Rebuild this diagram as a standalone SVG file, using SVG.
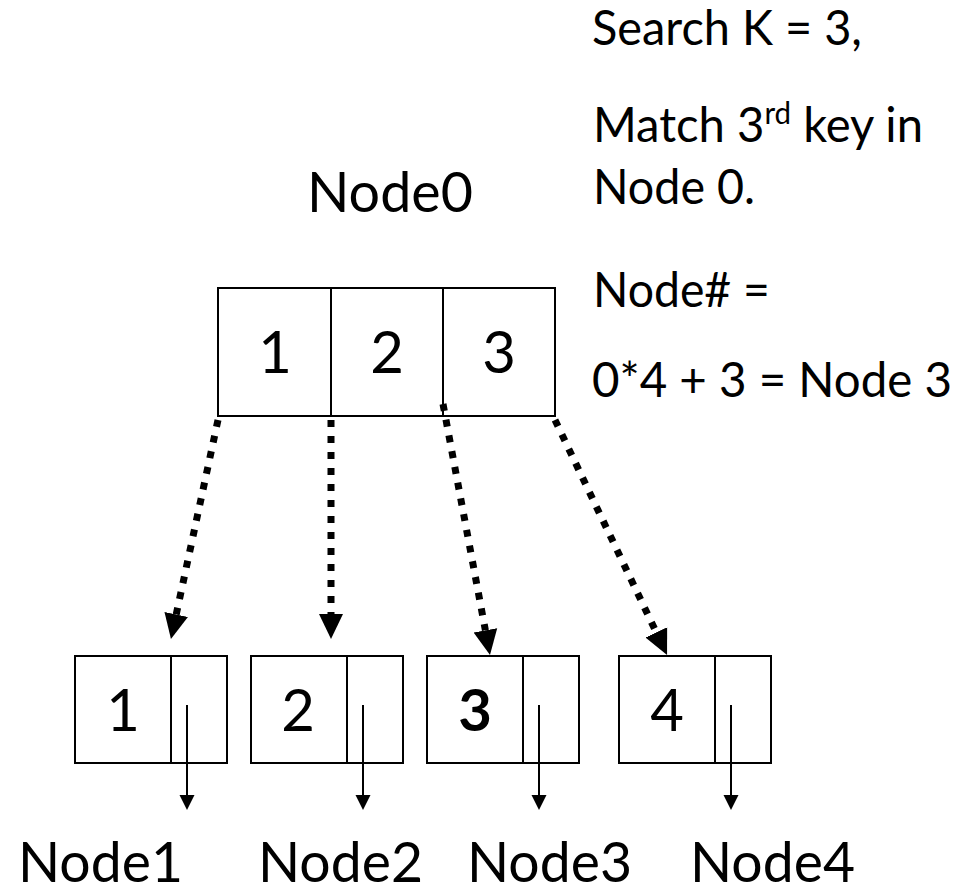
<svg xmlns="http://www.w3.org/2000/svg" width="968" height="888" viewBox="0 0 968 888">
  <style>
    .box { fill: #ffffff; stroke: #000000; stroke-width: 2; }
    .div { stroke: #000000; stroke-width: 2; }
    .t { font-family: Lato, "Liberation Sans", Arial, sans-serif; fill: #000000; }
    .big { font-size: 56px; }
    .note { font-size: 48px; }
    .key { font-size: 58px; text-anchor: middle; }
    .ptr { stroke: #000000; stroke-width: 7; stroke-dasharray: 7 9; fill: none; }
    .link { stroke: #000000; stroke-width: 2; fill: none; }
  </style>
  <defs>
    <marker id="bigHead" markerUnits="userSpaceOnUse" markerWidth="26" markerHeight="26" refX="0" refY="12" orient="auto" viewBox="0 0 26 24">
      <path d="M0,0 L25,12 L0,24 Z" fill="#000000"/>
    </marker>
    <marker id="smallHead" markerUnits="userSpaceOnUse" markerWidth="16" markerHeight="16" refX="0" refY="7.5" orient="auto" viewBox="0 0 16 15">
      <path d="M0,0 L15,7.5 L0,15 Z" fill="#000000"/>
    </marker>
  </defs>

  <!-- explanation text -->
  <g id="notes" class="t note">
    <text x="592" y="45" textLength="270" lengthAdjust="spacingAndGlyphs">Search K = 3,</text>
    <text x="593" y="142" textLength="330" lengthAdjust="spacingAndGlyphs">Match 3<tspan font-size="30" dy="-18">rd</tspan><tspan dy="18"> key in</tspan></text>
    <text x="593" y="204" textLength="162" lengthAdjust="spacingAndGlyphs">Node 0.</text>
    <text x="593" y="307" textLength="177" lengthAdjust="spacingAndGlyphs">Node# =</text>
    <text x="592" y="397" textLength="360" lengthAdjust="spacingAndGlyphs">0*4 + 3 = Node 3</text>
  </g>

  <!-- root node -->
  <g id="node0">
    <text class="t big" x="307" y="212" textLength="166" lengthAdjust="spacingAndGlyphs">Node0</text>
    <rect class="box" x="218" y="288" width="337" height="128"/>
    <line class="div" x1="331" y1="288" x2="331" y2="416"/>
    <line class="div" x1="443" y1="288" x2="443" y2="416"/>
    <text class="t key" x="275" y="373">1</text>
    <text class="t key" x="387" y="373">2</text>
    <text class="t key" x="499" y="373">3</text>
  </g>

  <!-- child nodes -->
  <g id="node1">
    <rect class="box" x="75" y="656" width="152" height="107"/>
    <line class="div" x1="171" y1="656" x2="171" y2="763"/>
    <text class="t key" x="123" y="731">1</text>
    <text class="t big" x="18" y="882" textLength="165" lengthAdjust="spacingAndGlyphs">Node1</text>
  </g>
  <g id="node2">
    <rect class="box" x="251" y="656" width="152" height="107"/>
    <line class="div" x1="347" y1="656" x2="347" y2="763"/>
    <text class="t key" x="298" y="731">2</text>
    <text class="t big" x="258" y="882" textLength="165" lengthAdjust="spacingAndGlyphs">Node2</text>
  </g>
  <g id="node3">
    <rect class="box" x="427" y="656" width="152" height="107"/>
    <line class="div" x1="523" y1="656" x2="523" y2="763"/>
    <text class="t key" x="475" y="731" font-weight="bold">3</text>
    <text class="t big" x="467" y="882" textLength="165" lengthAdjust="spacingAndGlyphs">Node3</text>
  </g>
  <g id="node4">
    <rect class="box" x="619" y="656" width="152" height="107"/>
    <line class="div" x1="715" y1="656" x2="715" y2="763"/>
    <text class="t key" x="667" y="731">4</text>
    <text class="t big" x="690" y="882" textLength="165" lengthAdjust="spacingAndGlyphs">Node4</text>
  </g>

  <!-- connectors -->
  <g id="connectors">
    <line class="ptr" x1="218" y1="420" x2="176.2" y2="614.5" marker-end="url(#bigHead)"/>
    <line class="ptr" x1="331" y1="420" x2="331" y2="614" marker-end="url(#bigHead)"/>
    <line class="ptr" x1="443" y1="404" x2="485.4" y2="630.4" marker-end="url(#bigHead)"/>
    <line class="ptr" x1="555" y1="420" x2="656.3" y2="632.4" marker-end="url(#bigHead)"/>
    <line class="link" x1="187" y1="705" x2="187" y2="795" marker-end="url(#smallHead)"/>
    <line class="link" x1="363" y1="705" x2="363" y2="795" marker-end="url(#smallHead)"/>
    <line class="link" x1="539" y1="705" x2="539" y2="795" marker-end="url(#smallHead)"/>
    <line class="link" x1="731" y1="705" x2="731" y2="795" marker-end="url(#smallHead)"/>
  </g>
</svg>
